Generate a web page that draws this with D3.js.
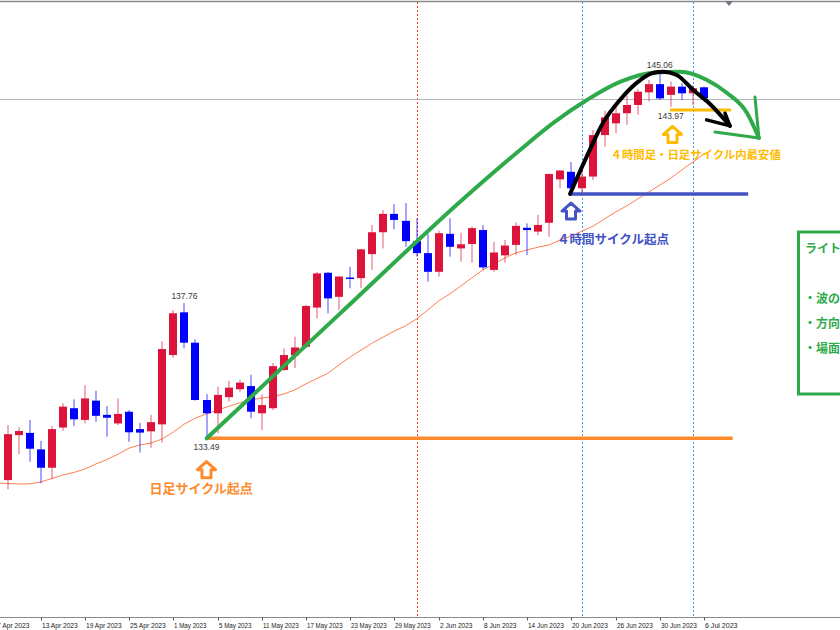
<!DOCTYPE html>
<html><head><meta charset="utf-8">
<script src="https://cdn.jsdelivr.net/npm/d3@7"></script>
<style>body{margin:0;background:#fff;overflow:hidden}svg{display:block}</style>
</head><body>
<script>
// ---- data (daily USDJPY candles) ----
const dates = ["2023-04-07","2023-04-10","2023-04-11","2023-04-12","2023-04-13","2023-04-14","2023-04-17","2023-04-18","2023-04-19","2023-04-20","2023-04-21","2023-04-24","2023-04-25","2023-04-26","2023-04-27","2023-04-28",
"2023-05-01","2023-05-02","2023-05-03","2023-05-04","2023-05-05","2023-05-08","2023-05-09","2023-05-10","2023-05-11","2023-05-12","2023-05-15","2023-05-16","2023-05-17","2023-05-18","2023-05-19","2023-05-22","2023-05-23","2023-05-24","2023-05-25","2023-05-26","2023-05-29","2023-05-30","2023-05-31",
"2023-06-01","2023-06-02","2023-06-05","2023-06-06","2023-06-07","2023-06-08","2023-06-09","2023-06-12","2023-06-13","2023-06-14","2023-06-15","2023-06-16","2023-06-19","2023-06-20","2023-06-21","2023-06-22","2023-06-23","2023-06-26","2023-06-27","2023-06-28","2023-06-29","2023-06-30",
"2023-07-03","2023-07-04","2023-07-05","2023-07-06"];
const open  = [131.79,132.17,133.59,133.66,133.14,132.56,133.83,134.44,134.07,134.68,134.23,133.96,134.33,133.78,133.71,133.93,136.12,137.47,136.51,134.70,134.28,134.79,135.04,135.14,134.28,134.44,135.65,136.11,136.38,137.62,138.72,137.96,138.57,138.55,139.31,140.00,140.58,140.36,139.72,139.34,138.75,139.95,139.49,139.63,140.07,138.81,139.27,139.60,140.14,140.02,140.30,141.67,141.91,141.39,141.76,143.07,143.44,143.76,144.02,144.42,144.68,144.34,144.60,144.39,144.58];
const high  = [132.49,133.91,133.84,134.07,133.41,133.88,134.60,134.72,135.17,134.99,134.51,134.75,134.38,133.98,134.23,136.56,137.54,137.76,136.62,134.89,135.12,135.31,135.35,135.50,134.88,135.87,136.33,136.70,137.70,138.75,138.74,138.62,138.91,139.47,140.23,140.70,140.89,140.92,140.44,139.95,140.05,140.44,139.99,140.18,140.23,139.70,139.76,140.31,140.28,140.55,141.86,141.97,142.22,142.07,143.23,143.84,144.09,144.31,144.52,144.81,145.06,144.76,144.71,144.65,144.60];
const low   = [131.70,131.88,132.99,132.75,132.07,132.20,133.73,133.88,133.96,134.01,133.54,133.91,133.38,133.04,133.19,133.35,136.03,136.33,134.68,133.49,133.65,134.65,134.95,134.12,133.75,134.38,135.62,135.71,136.34,137.28,137.44,137.54,138.23,138.23,138.81,139.49,140.09,139.54,139.23,138.44,138.60,139.23,139.07,139.04,138.81,138.75,139.04,139.28,139.28,139.91,139.86,141.39,141.30,141.23,141.65,142.70,143.13,143.39,143.71,144.13,144.18,143.97,144.18,144.02,144.21];
const close = [132.20,133.62,133.72,133.16,132.56,133.78,134.49,134.09,134.75,134.20,134.14,134.26,133.68,133.67,134.00,136.31,137.44,136.51,134.70,134.28,134.86,135.09,135.25,134.33,134.54,135.77,136.12,136.36,137.67,138.70,137.91,138.60,138.55,139.46,140.00,140.58,140.39,139.72,139.34,138.75,139.97,139.54,139.62,140.13,138.89,139.36,139.58,140.20,140.07,140.23,141.84,141.95,141.39,141.76,143.07,143.63,143.76,144.02,144.44,144.68,144.23,144.60,144.39,144.55,144.23];
const ma    = [132.08,132.06,132.05,132.05,132.11,132.22,132.33,132.41,132.52,132.68,132.82,132.99,133.18,133.28,133.34,133.47,133.69,133.94,134.13,134.26,134.38,134.50,134.61,134.70,134.76,134.81,134.89,135.02,135.21,135.38,135.55,135.81,136.06,136.28,136.50,136.69,136.88,137.04,137.26,137.54,137.83,138.05,138.30,138.56,138.81,139.00,139.19,139.35,139.44,139.53,139.60,139.76,139.88,140.04,140.20,140.42,140.64,140.83,141.05,141.27,141.49,141.71,141.97,142.22,142.47];
const tickIdx = [0,4,8,12,16,20,24,28,32,36,40,44,48,52,56,60,64];
const redSepIdx = [38];
const blueSepIdx = [53,63];
const bidPrice = 144.21;
const hiLabels = [{k:17, v:137.76}, {k:60, v:145.06}];
const loLabels = [{k:19, v:133.49}, {k:61, v:143.97}];
// annotations (candle index, price)
const greenCurve = [[19.02,133.49],[31.07,137.43],[42.83,141.24],[47.36,142.60],[50.34,143.45],[53.41,144.18],[56.40,144.75],[59.38,145.04],[61.82,145.07],[64.27,144.81],[66.08,144.40],[67.89,143.77],[68.97,142.98]];
const greenHead = [[68.61,144.27],[68.97,142.98],[64.99,143.17]];
const blackCurve = [[51.88,141.21],[53.39,142.39],[54.86,143.45],[56.40,144.18],[57.91,144.72],[59.38,145.03],[60.29,145.07],[61.53,144.97],[63.00,144.50],[64.54,144.05],[66.35,143.36]];
const blackHead = [[64.24,143.55],[66.35,143.36],[65.90,143.76]];
const hLines = [
  {from:19, to:66.6, v:133.49, color:"#ff8a2e", w:3.5},
  {from:51.88, to:68.0, v:141.21, color:"#4453c4", w:3.5},
  {from:60.92, to:66.44, v:143.86, color:"#ffbb00", w:3}
];
const arrows = [
  {k:19, v:132.80, color:"#ff8a2e", text:"日足サイクル起点", dx:-57, dy:33, size:13},
  {k:51.97, v:140.97, color:"#4453c4", text:"４時間サイクル起点", dx:-14, dy:42, size:12.5},
  {k:61.15, v:143.39, color:"#ffbb00", text:"４時間足・日足サイクル内最安値", dx:-62, dy:34, size:11.4}
];
const boxTitle = "ライト";
const boxItems = ["・波の","・方向","・場面"];

// ---- drawing ----
const W = 840, H = 630;
const svg = d3.select("body").append("svg").attr("width", W).attr("height", H);
const x = d3.scaleLinear().domain([1, 64]).range([7.5, 704]);
const y = d3.scaleLinear().domain([133.49, 145.06]).range([438.3, 72.1]);
const axisY = 617.5;
const numFont = "'Liberation Sans', Arial, sans-serif";
const jpFont = "'Noto Sans CJK JP', 'Noto Sans', sans-serif";

// top border & shift marker
svg.append("line").attr("x1",0).attr("x2",W).attr("y1",1.5).attr("y2",1.5).attr("stroke","#8a8a8a").attr("stroke-width",1.5);
svg.append("path").attr("d","M725,1 L733,1 L729,6 Z").attr("fill","#6f7580");

// separators
svg.selectAll(".sepR").data(redSepIdx).join("line")
  .attr("x1",d=>Math.round(x(d))+0.5).attr("x2",d=>Math.round(x(d))+0.5).attr("y1",2).attr("y2",axisY)
  .attr("stroke","#ff3030").attr("stroke-dasharray","2,2").attr("stroke-width",1);
svg.selectAll(".sepB").data(blueSepIdx).join("line")
  .attr("x1",d=>Math.round(x(d))+0.5).attr("x2",d=>Math.round(x(d))+0.5).attr("y1",2).attr("y2",axisY)
  .attr("stroke","#3d9cf5").attr("stroke-dasharray","2,2").attr("stroke-width",1);

// bid line
svg.append("line").attr("x1",0).attr("x2",W).attr("y1",Math.round(y(bidPrice))+0.5).attr("y2",Math.round(y(bidPrice))+0.5)
  .attr("stroke","#b4b4bc").attr("stroke-width",1);

// moving average
svg.append("path").datum(ma).attr("fill","none").attr("stroke","#ff7f50").attr("stroke-width",1)
  .attr("d", d3.line().x((d,i)=>x(i)).y(d=>y(d)));

// candles
const idx = d3.range(dates.length);
const g = svg.append("g");
const col = i => close[i] >= open[i] ? "#dc143c" : "#0000ff";
g.selectAll(".wick").data(idx).join("rect")
  .attr("x", i=>Math.round(x(i))-0.5).attr("width",1)
  .attr("y", i=>y(high[i])).attr("height", i=>Math.max(1, y(low[i])-y(high[i])))
  .attr("fill", col).attr("opacity",0.7);
g.selectAll(".body").data(idx).join("rect")
  .attr("x", i=>Math.round(x(i))-4).attr("width",8)
  .attr("y", i=>y(Math.max(open[i],close[i])))
  .attr("height", i=>Math.max(1.5, Math.abs(y(open[i])-y(close[i]))))
  .attr("fill", col);

// horizontal annotation lines
svg.selectAll(".hl").data(hLines).join("line")
  .attr("x1",d=>x(d.from)).attr("x2",d=>x(d.to)).attr("y1",d=>y(d.v)).attr("y2",d=>y(d.v))
  .attr("stroke",d=>d.color).attr("stroke-width",d=>d.w);

// curves
const curveLine = d3.line().x(d=>x(d[0])).y(d=>y(d[1])).curve(d3.curveMonotoneX);
const polyLine = d3.line().x(d=>x(d[0])).y(d=>y(d[1]));
svg.append("path").attr("d",curveLine(greenCurve)).attr("fill","none").attr("stroke","#2eaa4a").attr("stroke-width",4).attr("stroke-linecap","round");
svg.append("path").attr("d",polyLine(greenHead)).attr("fill","none").attr("stroke","#2eaa4a").attr("stroke-width",3).attr("stroke-linecap","round").attr("stroke-linejoin","round");
svg.append("path").attr("d",curveLine(blackCurve)).attr("fill","none").attr("stroke","#000").attr("stroke-width",4).attr("stroke-linecap","round");
svg.append("path").attr("d",polyLine(blackHead)).attr("fill","none").attr("stroke","#000").attr("stroke-width",3.5).attr("stroke-linecap","round").attr("stroke-linejoin","round");

// price labels
svg.selectAll(".hil").data(hiLabels).join("text")
  .attr("x",d=>x(d.k)).attr("y",d=>y(d.v)-4).attr("text-anchor","middle")
  .attr("font-family",numFont).attr("font-size",8.5).attr("fill","#3a3a3a").text(d=>d.v.toFixed(2));
svg.selectAll(".lol").data(loLabels).join("text")
  .attr("x",d=>x(d.k)).attr("y",d=>y(d.v)+12).attr("text-anchor","middle")
  .attr("font-family",numFont).attr("font-size",8.5).attr("fill","#3a3a3a").text(d=>d.v.toFixed(2));

// hollow arrows + captions
const arrowPath = "M0,0 L9,8 L4.5,8 L4.5,16 L-4.5,16 L-4.5,8 L-9,8 Z";
arrows.forEach(a=>{
  const ax = x(a.k), ay = y(a.v);
  svg.append("path").attr("d",arrowPath).attr("transform",`translate(${ax},${ay+1.5})`)
    .attr("fill","#fff").attr("stroke",a.color).attr("stroke-width",3).attr("stroke-linejoin","round");
  svg.append("text").attr("x",ax+a.dx).attr("y",ay+a.dy).attr("font-family",jpFont).attr("font-weight","bold")
    .attr("font-size",a.size).attr("fill",a.color).text(a.text);
});

// right info box
svg.append("rect").attr("x",798.5).attr("y",232).attr("width",80).attr("height",162)
  .attr("fill","#fff").attr("stroke","#2eaa4a").attr("stroke-width",3);
svg.append("text").attr("x",805).attr("y",253).attr("font-family",jpFont).attr("font-weight","bold")
  .attr("font-size",12).attr("fill","#2eaa4a").text(boxTitle);
svg.selectAll(".bi").data(boxItems).join("text")
  .attr("x",804).attr("y",(d,i)=>303+i*25).attr("font-family",jpFont).attr("font-weight","bold")
  .attr("font-size",12).attr("fill","#2eaa4a").text(d=>d);

// time axis
svg.append("line").attr("x1",0).attr("x2",W).attr("y1",axisY).attr("y2",axisY).attr("stroke","#8a8a8a").attr("stroke-width",1);
const fmt = d3.timeFormat("%-d %b %Y"), parse = d3.timeParse("%Y-%m-%d");
svg.selectAll(".tk").data(tickIdx).join("line")
  .attr("x1",d=>Math.round(x(d))+0.5).attr("x2",d=>Math.round(x(d))+0.5).attr("y1",axisY).attr("y2",axisY+3)
  .attr("stroke","#555");
svg.selectAll(".tl").data(tickIdx).join("text")
  .attr("x",d=>Math.round(x(d))+1).attr("y",627.5)
  .attr("font-family",numFont).attr("font-size",7)
  .attr("textLength",d=>fmt(parse(dates[d])).length*3.25).attr("lengthAdjust","spacingAndGlyphs")
  .attr("fill","#222").text(d=>fmt(parse(dates[d])));
</script>
</body></html>
